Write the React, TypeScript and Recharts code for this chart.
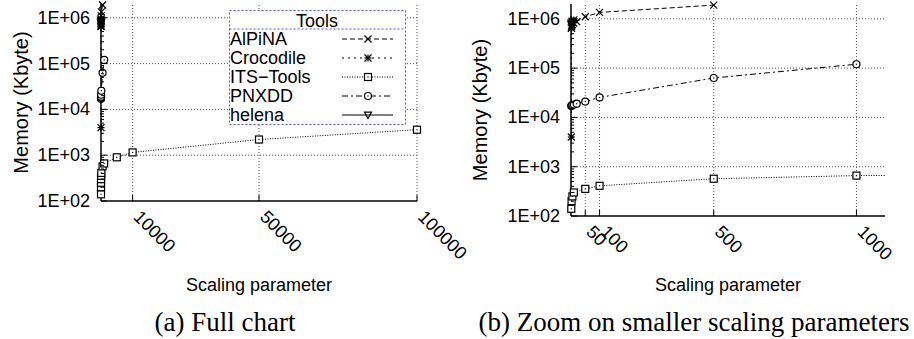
import { LineChart, Line, XAxis, YAxis, ReferenceLine, Legend } from 'recharts';

const FONT = '"Liberation Sans", Arial, Helvetica, sans-serif';

// scaling parameter (x) and memory in Kbyte (y)
const alpinaX = [1, 2, 5, 10, 20, 50, 100, 500];
const alpinaY = [650000, 700000, 760000, 820000, 880000, 1100000, 1350000, 1900000];
const crocodileX = [1, 2, 5, 10];
const crocodileY = [4000, 650000, 850000, 950000];
const itsX = [1, 2, 5, 10, 50, 100, 500, 1000, 5000, 10000, 50000, 100000];
const itsY = [140, 200, 250, 300, 355, 410, 570, 660, 900, 1150, 2200, 3600];
const pnxddX = [1, 2, 5, 10, 20, 50, 100, 500, 1000];
const pnxddY = [17000, 17300, 17800, 18300, 19000, 21000, 25500, 63000, 120000];
const helenaX = [1, 2, 5];
const helenaY = [780000, 830000, 900000];

// axis ticks
const yMajor = [100, 1000, 10000, 100000, 1000000];
const yMinor = [
  200, 300, 400, 500, 600, 700, 800, 900,
  2000, 3000, 4000, 5000, 6000, 7000, 8000, 9000,
  20000, 30000, 40000, 50000, 60000, 70000, 80000, 90000,
  200000, 300000, 400000, 500000, 600000, 700000, 800000, 900000,
];
const yLabels = ['1E+02', '1E+03', '1E+04', '1E+05', '1E+06'];
const fullTicks = [10000, 50000, 100000];
const zoomTicks = [50, 100, 500, 1000];

const Y_DOMAIN = [100, 2000000];
const Y_ALL = [...yMajor, ...yMinor].sort((a, b) => a - b);

const zip = (xs: number[], ys: number[]) => xs.map((x, i) => ({ x, y: ys[i] }));

const SERIES = [
  { name: 'AlPiNA', data: zip(alpinaX, alpinaY), dash: '5 3', marker: 'cross' },
  { name: 'Crocodile', data: zip(crocodileX, crocodileY), dash: '2 4', marker: 'star' },
  { name: 'ITS\u2212Tools', data: zip(itsX, itsY), dash: '1 1.5', marker: 'square' },
  { name: 'PNXDD', data: zip(pnxddX, pnxddY), dash: '6 3 2 3', marker: 'circle' },
  { name: 'helena', data: zip(helenaX, helenaY), dash: undefined, marker: 'triangle' },
];

const Marker = ({ kind, cx, cy }: { kind: string; cx: number; cy: number }) => {
  if (cx == null || cy == null || isNaN(cx) || isNaN(cy)) return null;
  const s = 3.5;
  const st = { stroke: '#000', strokeWidth: 1.2, fill: 'none' };
  switch (kind) {
    case 'cross':
      return (
        <g {...st}>
          <line x1={cx - s} y1={cy - s} x2={cx + s} y2={cy + s} />
          <line x1={cx - s} y1={cy + s} x2={cx + s} y2={cy - s} />
        </g>
      );
    case 'star':
      return (
        <g {...st}>
          <line x1={cx - s} y1={cy - s} x2={cx + s} y2={cy + s} />
          <line x1={cx - s} y1={cy + s} x2={cx + s} y2={cy - s} />
          <line x1={cx - s} y1={cy} x2={cx + s} y2={cy} />
          <line x1={cx} y1={cy - s} x2={cx} y2={cy + s} />
        </g>
      );
    case 'square':
      return (
        <g>
          <rect x={cx - s} y={cy - s} width={2 * s} height={2 * s} {...st} fill="#fff" />
          <rect x={cx - 0.6} y={cy - 0.6} width={1.2} height={1.2} fill="#000" />
        </g>
      );
    case 'circle':
      return (
        <g>
          <circle cx={cx} cy={cy} r={s} {...st} fill="#fff" />
          <circle cx={cx} cy={cy} r={0.7} fill="#000" />
        </g>
      );
    default:
      return (
        <path
          d={`M${cx - s},${cy - s * 0.8} L${cx + s},${cy - s * 0.8} L${cx},${cy + s} Z`}
          {...st}
        />
      );
  }
};

const LegendBox = () => (
  <svg width={178} height={116} style={{ display: 'block', fontFamily: FONT }}>
    <rect x={0.5} y={0.5} width={176} height={114} fill="#fff" stroke="#4f4ff0" strokeDasharray="2 2" />
    <line x1={0.5} x2={176.5} y1={19} y2={19} stroke="#4f4ff0" strokeDasharray="2 2" />
    <text x={88} y={11} textAnchor="middle" dominantBaseline="central" fontSize={18}>
      Tools
    </text>
    {SERIES.map((s, i) => {
      const cy = 29 + i * 19;
      return (
        <g key={s.name}>
          <text x={1} y={cy} dominantBaseline="central" fontSize={18}>
            {s.name}
          </text>
          <line x1={113} x2={164} y1={cy} y2={cy} stroke="#000" strokeDasharray={s.dash} />
          <Marker kind={s.marker} cx={139} cy={cy} />
        </g>
      );
    })}
  </svg>
);

const LeftTick = (p: any) => {
  const v = p.payload.value;
  const i = yMajor.indexOf(v);
  const len = i >= 0 ? 6 : 3;
  return (
    <g>
      <line x1={p.x} x2={p.x + len} y1={p.y} y2={p.y} stroke="#000" />
      {i >= 0 && (
        <text x={p.x - 11} y={p.y} textAnchor="end" dominantBaseline="central" fontSize={18} fontFamily={FONT}>
          {yLabels[i]}
        </text>
      )}
    </g>
  );
};

const RightTick = (p: any) => {
  const len = yMajor.includes(p.payload.value) ? 6 : 3;
  return <line x1={p.x} x2={p.x - len} y1={p.y} y2={p.y} stroke="#000" />;
};

const BottomTick = (p: any) => (
  <g>
    <line x1={p.x} x2={p.x} y1={p.y} y2={p.y - 6} stroke="#000" />
    <text transform={`translate(${p.x},${p.y + 17}) rotate(45)`} fontSize={18} fontFamily={FONT}>
      {p.payload.value}
    </text>
  </g>
);

const TopTick = (p: any) => <line x1={p.x} x2={p.x} y1={p.y} y2={p.y + 6} stroke="#000" />;

interface PanelProps {
  width: number;
  height: number;
  margin: { top: number; right: number; bottom: number; left: number };
  yWidth: number;
  xHeight: number;
  xDomain: number[];
  xTicks: number[];
  clipX: boolean;
  yLabelX: number;
  xLabelDy: number;
  legend?: boolean;
}

const Panel = ({ width, height, margin, yWidth, xHeight, xDomain, xTicks, clipX, yLabelX, xLabelDy, legend }: PanelProps) => {
  const axisLine = { stroke: '#000', strokeWidth: 1.5 };
  // when the x range is cut, lines are clipped to the plot and the markers
  // inside the range are drawn by a second, unclipped layer
  const dotAxis = clipX ? 'd' : 'b';
  return (
    <LineChart width={width} height={height} margin={margin}>
      <XAxis
        xAxisId="b"
        type="number"
        dataKey="x"
        domain={xDomain}
        ticks={xTicks}
        interval={0}
        allowDataOverflow={clipX}
        height={xHeight}
        tickSize={0}
        tickMargin={0}
        tickLine={false}
        axisLine={axisLine}
        tick={(p: any) => <BottomTick {...p} />}
        label={(p: any) => {
          const vb = p.viewBox;
          return (
            <text
              x={vb.x + vb.width / 2}
              y={vb.y + xLabelDy}
              textAnchor="middle"
              dominantBaseline="central"
              fontSize={18}
              fontFamily={FONT}
            >
              Scaling parameter
            </text>
          );
        }}
      />
      {clipX && <XAxis xAxisId="d" type="number" dataKey="x" domain={xDomain} hide />}
      <XAxis
        xAxisId="t"
        orientation="top"
        type="number"
        dataKey="x"
        domain={xDomain}
        ticks={xTicks}
        interval={0}
        allowDataOverflow
        height={0}
        tickSize={0}
        tickMargin={0}
        tickLine={false}
        axisLine={axisLine}
        tick={(p: any) => <TopTick {...p} />}
      />
      <YAxis
        yAxisId="l"
        type="number"
        scale="log"
        domain={Y_DOMAIN}
        ticks={Y_ALL}
        interval={0}
        width={yWidth}
        tickSize={0}
        tickMargin={0}
        tickLine={false}
        axisLine={axisLine}
        tick={(p: any) => <LeftTick {...p} />}
        label={(p: any) => {
          const vb = p.viewBox;
          const cx = vb.x + yLabelX;
          const cy = vb.y + vb.height / 2;
          return (
            <text
              transform={`translate(${cx},${cy}) rotate(-90)`}
              textAnchor="middle"
              dominantBaseline="central"
              fontSize={20}
              fontFamily={FONT}
            >
              Memory (Kbyte)
            </text>
          );
        }}
      />
      <YAxis
        yAxisId="r"
        orientation="right"
        type="number"
        scale="log"
        domain={Y_DOMAIN}
        ticks={Y_ALL}
        interval={0}
        allowDataOverflow
        width={0}
        tickSize={0}
        tickMargin={0}
        tickLine={false}
        axisLine={axisLine}
        tick={(p: any) => <RightTick {...p} />}
      />
      {yMajor.slice(1).map((v) => (
        <ReferenceLine key={`gy${v}`} xAxisId="b" yAxisId="l" y={v} stroke="#555" strokeDasharray="1 2" />
      ))}
      {xTicks.map((v) => (
        <ReferenceLine key={`gx${v}`} xAxisId="b" yAxisId="l" x={v} stroke="#555" strokeDasharray="1 2" />
      ))}
      {SERIES.map((s) => (
        <Line
          key={s.name}
          xAxisId="b"
          yAxisId="l"
          data={s.data}
          dataKey="y"
          name={s.name}
          stroke="#000"
          strokeWidth={1}
          strokeDasharray={s.dash}
          isAnimationActive={false}
          dot={
            clipX
              ? false
              : (p: any) => <Marker key={`${s.name}-${p.index}`} kind={s.marker} cx={p.cx} cy={p.cy} />
          }
          activeDot={false}
        />
      ))}
      {clipX &&
        SERIES.map((s) => (
          <Line
            key={`${s.name}-dots`}
            xAxisId={dotAxis}
            yAxisId="l"
            data={s.data.filter((d) => d.x <= xDomain[1])}
            dataKey="y"
            name={`${s.name} markers`}
            stroke="none"
            legendType="none"
            isAnimationActive={false}
            dot={(p: any) => <Marker key={`${s.name}-d${p.index}`} kind={s.marker} cx={p.cx} cy={p.cy} />}
            activeDot={false}
          />
        ))}
      {legend && (
        <Legend
          layout="vertical"
          align="center"
          verticalAlign="middle"
          content={() => <LegendBox />}
          wrapperStyle={{ left: 229, top: 10, width: 178, height: 116 }}
        />
      )}
    </LineChart>
  );
};

const captionStyle: React.CSSProperties = {
  position: 'absolute',
  top: 308,
  fontFamily: '"Liberation Serif", "Times New Roman", serif',
  fontSize: 27,
  lineHeight: '28px',
  textAlign: 'center',
  whiteSpace: 'nowrap',
  width: 500,
};

export default function App() {
  return (
    <div style={{ position: 'absolute', left: 0, top: 0, width: 914, height: 339, background: '#fff', overflow: 'hidden' }}>
      <div style={{ position: 'absolute', left: 0, top: 0 }}>
        <Panel
          width={480}
          height={300}
          margin={{ top: 4, right: 63, bottom: 0, left: 0 }}
          yWidth={101}
          xHeight={99}
          xDomain={[0, 100000]}
          xTicks={fullTicks}
          clipX={false}
          yLabelX={21}
          xLabelDy={84}
          legend
        />
      </div>
      <div style={{ position: 'absolute', left: 460, top: 0 }}>
        <Panel
          width={454}
          height={300}
          margin={{ top: 4, right: 29, bottom: 0, left: 0 }}
          yWidth={111}
          xHeight={84}
          xDomain={[0, 1100]}
          xTicks={zoomTicks}
          clipX
          yLabelX={20}
          xLabelDy={69}
        />
      </div>
      <div style={{ ...captionStyle, left: 225 - 250 }}>(a) Full chart</div>
      <div style={{ ...captionStyle, left: 694 - 250 }}>(b) Zoom on smaller scaling parameters</div>
    </div>
  );
}
